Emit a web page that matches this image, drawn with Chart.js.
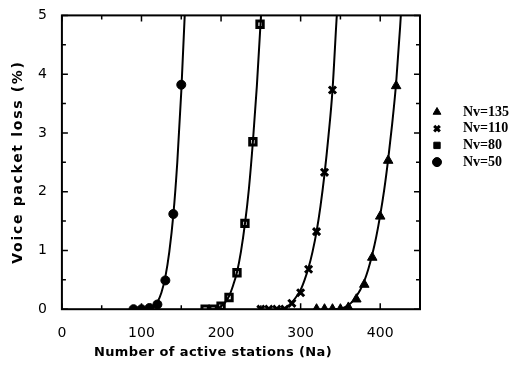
<!DOCTYPE html>
<html>
<head>
<meta charset="utf-8">
<script src="https://cdn.jsdelivr.net/npm/chart.js@4/dist/chart.umd.min.js"></script>
<style>
  html, body { margin: 0; padding: 0; background: #fff; }
  #wrap { width: 515px; height: 366px; }
</style>
</head>
<body>
<div id="wrap"><canvas id="chart" width="515" height="366"></canvas></div>
<script>
// Измеренные точки (Na, потери %)
const na50 = [90, 100, 110, 120, 130, 140, 150];
const loss50 = [0, 0, 0.02, 0.08, 0.49, 1.62, 3.82];
const na80 = [180, 190, 200, 210, 220, 230, 240, 249];
const loss80 = [0, 0, 0.05, 0.2, 0.62, 1.46, 2.85, 4.85];
const na110 = [250, 260, 270, 280, 289, 300, 310, 320, 330, 340];
const loss110 = [0, 0, 0, 0, 0.1, 0.28, 0.68, 1.32, 2.33, 3.73];
const na135 = [320, 330, 340, 350, 360, 370, 380, 390, 400, 410, 420];
const loss135 = [0, 0, 0, 0, 0.03, 0.17, 0.42, 0.88, 1.58, 2.53, 3.8];

// Кривые аппроксимации
const fitX50 = [100, 110, 115, 120, 125, 130, 135, 140, 145, 150, 155, 158];
const fitY50 = [0, 0.01, 0.04, 0.12, 0.28, 0.55, 0.98, 1.6, 2.5, 3.7, 5.2, 6.4];
const fitX80 = [185, 190, 195, 200, 205, 210, 215, 220, 225, 230, 235, 240, 245, 250, 255];
const fitY80 = [0, 0, 0.01, 0.05, 0.11, 0.22, 0.4, 0.63, 0.98, 1.45, 2.05, 2.85, 3.8, 4.95, 6.2];
const fitX110 = [270, 280, 285, 290, 295, 300, 305, 310, 315, 320, 325, 330, 335, 340, 345, 350];
const fitY110 = [0, 0.02, 0.06, 0.13, 0.22, 0.33, 0.5, 0.71, 0.98, 1.32, 1.76, 2.3, 2.95, 3.72, 4.9, 6.0];
const fitX135 = [340, 350, 355, 360, 365, 370, 375, 380, 385, 390, 395, 400, 405, 410, 415, 420, 425, 430];
const fitY135 = [0, 0.01, 0.03, 0.07, 0.13, 0.22, 0.33, 0.48, 0.68, 0.93, 1.23, 1.6, 2.03, 2.55, 3.15, 3.85, 4.8, 5.9];

const xTickLabels = [0, 100, 200, 300, 400];
const yTickLabels = [0, 1, 2, 3, 4, 5];
const seriesNames = ['Nv=135', 'Nv=110', 'Nv=80', 'Nv=50'];

function pairs(xs, ys) {
  return xs.map((x, i) => ({ x: x, y: ys[i] }));
}

function curve(xs, ys) {
  return {
    type: 'line',
    data: pairs(xs, ys),
    borderColor: '#000',
    borderWidth: 2,
    pointRadius: 0,
    cubicInterpolationMode: 'monotone',
    fill: false,
    isCurve: true
  };
}

function marks(label, xs, ys, style, extra) {
  return Object.assign({
    type: 'scatter',
    label: label,
    data: pairs(xs, ys),
    pointStyle: style,
    pointRadius: 4.5,
    backgroundColor: '#000',
    borderColor: '#000',
    borderWidth: 1
  }, extra || {});
}

// Рамка, внутренние засечки, подписи осей и легенда
const framePlugin = {
  id: 'frame',
  afterDraw(chart) {
    const ctx = chart.ctx;
    const a = chart.chartArea;
    const xs = chart.scales.x, ys = chart.scales.y;
    ctx.save();
    ctx.strokeStyle = '#000';
    ctx.lineWidth = 2;
    ctx.strokeRect(a.left, a.top, a.right - a.left, a.bottom - a.top);
    ctx.lineWidth = 1.5;
    ctx.beginPath();
    xs.ticks.forEach(t => {
      const p = xs.getPixelForValue(t.value);
      const len = xTickLabels.includes(t.value) ? 6 : 4;
      ctx.moveTo(p, a.bottom); ctx.lineTo(p, a.bottom - len);
      ctx.moveTo(p, a.top); ctx.lineTo(p, a.top + len);
    });
    ys.ticks.forEach(t => {
      const p = ys.getPixelForValue(t.value);
      const len = yTickLabels.includes(t.value) ? 6 : 4;
      ctx.moveTo(a.left, p); ctx.lineTo(a.left + len, p);
      ctx.moveTo(a.right, p); ctx.lineTo(a.right - len, p);
    });
    ctx.stroke();

    // подписи осей
    ctx.fillStyle = '#000';
    ctx.textAlign = 'center';
    ctx.textBaseline = 'middle';
    ctx.font = 'bold 13px "DejaVu Sans"';
    ctx.letterSpacing = '0.4px';
    ctx.fillText('Number of active stations (Na)', 213, 353);
    ctx.font = 'bold 14px "DejaVu Sans"';
    ctx.letterSpacing = '1.7px';
    ctx.translate(18, 162);
    ctx.rotate(-Math.PI / 2);
    ctx.fillText('Voice packet loss (%)', 0, 0);
    ctx.restore();

    // легенда
    ctx.save();
    ctx.font = 'bold 14px "Liberation Serif"';
    ctx.textAlign = 'left';
    ctx.textBaseline = 'middle';
    const pointSets = chart.data.datasets.filter(d => !d.isCurve);
    seriesNames.forEach((name, i) => {
      const ds = pointSets.find(d => d.label === name);
      const y = 112 + i * 16.7;
      ctx.fillStyle = '#000';
      ctx.strokeStyle = '#000';
      ctx.lineWidth = ds.pointStyle === 'crossRot' ? 3 : 1;
      Chart.helpers.drawPoint(ctx, {
        pointStyle: ds.pointStyle,
        radius: ds.pointStyle === 'crossRot' ? 4 : 4.5,
        borderWidth: ctx.lineWidth,
        rotation: 0
      }, 437, y);
      ctx.fillStyle = '#000';
      ctx.fillText(name, 463, y);
    });
    ctx.restore();
  }
};

const ctx = document.getElementById('chart').getContext('2d');
new Chart(ctx, {
  data: {
    datasets: [
      curve(fitX50, fitY50),
      curve(fitX80, fitY80),
      curve(fitX110, fitY110),
      curve(fitX135, fitY135),
      marks('Nv=135', na135, loss135, 'triangle', { pointRadius: 5.5 }),
      marks('Nv=110', na110, loss110, 'crossRot', { pointRadius: 5, borderWidth: 3 }),
      marks('Nv=80', na80, loss80, 'rect', { backgroundColor: '#fff', borderWidth: 3 }),
      marks('Nv=50', na50, loss50, 'circle')
    ]
  },
  options: {
    responsive: false,
    animation: false,
    layout: { padding: { left: 31, right: 95, top: 8, bottom: 16 } },
    plugins: { legend: { display: false }, tooltip: { enabled: false } },
    scales: {
      x: {
        type: 'linear',
        min: 0,
        max: 450,
        grid: { display: false },
        border: { display: false },
        ticks: {
          stepSize: 50,
          autoSkip: false,
          maxRotation: 0,
          padding: 8,
          color: '#000',
          font: { family: 'DejaVu Sans', size: 14 },
          callback: v => xTickLabels.includes(v) ? String(v) : ''
        }
      },
      y: {
        min: 0,
        max: 5,
        grid: { display: false },
        border: { display: false },
        ticks: {
          stepSize: 0.5,
          autoSkip: false,
          padding: 7,
          color: '#000',
          font: { family: 'DejaVu Sans', size: 14 },
          callback: v => yTickLabels.includes(v) ? String(v) : ''
        }
      }
    }
  },
  plugins: [framePlugin]
});
</script>
</body>
</html>
